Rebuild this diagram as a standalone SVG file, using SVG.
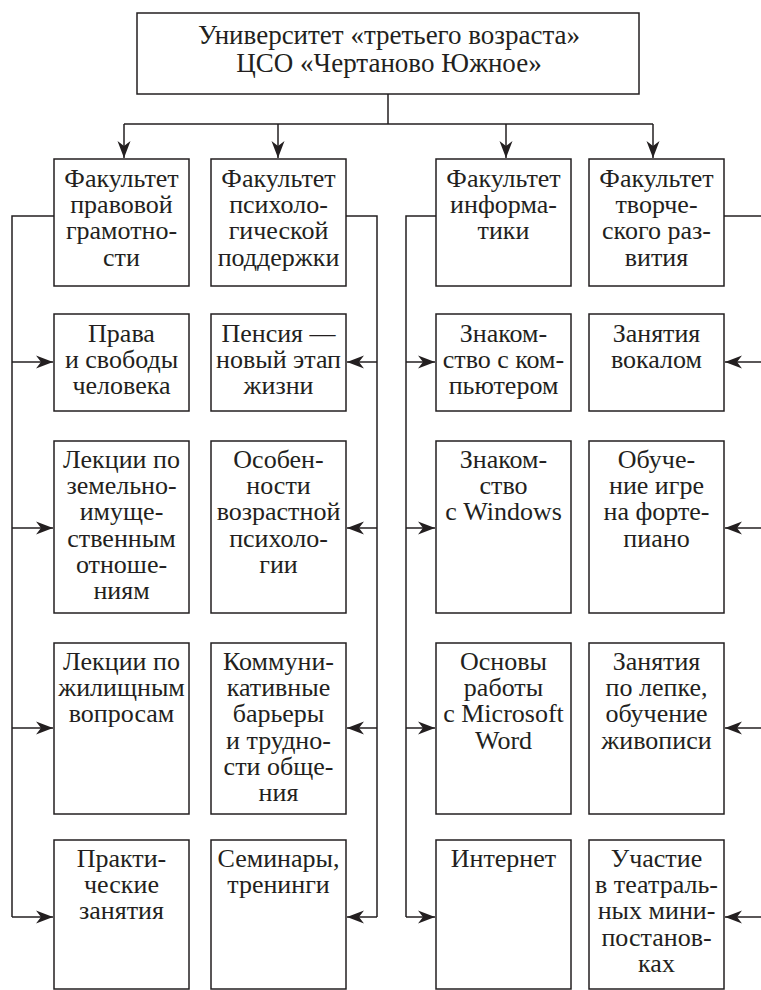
<svg xmlns="http://www.w3.org/2000/svg" width="761" height="990" viewBox="0 0 761 990">
<style>
rect{fill:#fff;stroke:#231f20;stroke-width:1.5}
text{font-family:'Liberation Serif','DejaVu Serif','Times New Roman',serif;font-size:26px;fill:#231f20;text-anchor:middle}
.t{font-size:27px}
.c path{fill:none;stroke:#231f20;stroke-width:1.5}
</style>
<defs>
<marker id="a" markerUnits="userSpaceOnUse" markerWidth="20" markerHeight="16" viewBox="-17 -8 18 16" refX="0" refY="0" orient="auto">
<path d="M0,0 L-17,-6.5 L-12,0 L-17,6.5 Z" fill="#231f20"/>
</marker>
</defs>
<g class="c" id="connectors">
<path d="M388,94 V124 M124,124 H653"/>
<path d="M124,124 V158" marker-end="url(#a)"/>
<path d="M278,124 V158" marker-end="url(#a)"/>
<path d="M506,124 V158" marker-end="url(#a)"/>
<path d="M653,124 V158" marker-end="url(#a)"/>
<path d="M54,216 H12 V917"/>
<path d="M12,362 H53" marker-end="url(#a)"/>
<path d="M12,528 H53" marker-end="url(#a)"/>
<path d="M12,728 H53" marker-end="url(#a)"/>
<path d="M12,917 H53" marker-end="url(#a)"/>
<path d="M346,216 H377 V917"/>
<path d="M377,362 H347" marker-end="url(#a)"/>
<path d="M377,528 H347" marker-end="url(#a)"/>
<path d="M377,728 H347" marker-end="url(#a)"/>
<path d="M377,917 H347" marker-end="url(#a)"/>
<path d="M436,216 H406 V917"/>
<path d="M406,362 H435" marker-end="url(#a)"/>
<path d="M406,528 H435" marker-end="url(#a)"/>
<path d="M406,728 H435" marker-end="url(#a)"/>
<path d="M406,917 H435" marker-end="url(#a)"/>
<path d="M724,216 H761"/>
<path d="M761,362 H725" marker-end="url(#a)"/>
<path d="M761,528 H725" marker-end="url(#a)"/>
<path d="M761,728 H725" marker-end="url(#a)"/>
<path d="M761,917 H725" marker-end="url(#a)"/>
</g>
<g id="root"><rect x="137" y="13" width="502" height="81"/>
<text class="t" x="389" y="44">Университет «третьего возраста»</text>
<text class="t" x="389" y="72">ЦСО «Чертаново Южное»</text></g>

<g id="f1"><rect x="54" y="159" width="135" height="127"/>
<text x="121.5" y="187">Факультет</text><text x="121.5" y="213.2">правовой</text><text x="121.5" y="239.4">грамотно-</text><text x="121.5" y="265.6">сти</text></g>
<g id="f2"><rect x="211" y="159" width="135" height="127"/>
<text x="278.5" y="187">Факультет</text><text x="278.5" y="213.2">психоло-</text><text x="278.5" y="239.4">гической</text><text x="278.5" y="265.6">поддержки</text></g>
<g id="f3"><rect x="436" y="159" width="135" height="127"/>
<text x="503.5" y="187">Факультет</text><text x="503.5" y="213.2">информа-</text><text x="503.5" y="239.4">тики</text></g>
<g id="f4"><rect x="589" y="159" width="135" height="127"/>
<text x="656.5" y="187">Факультет</text><text x="656.5" y="213.2">творче-</text><text x="656.5" y="239.4">ского раз-</text><text x="656.5" y="265.6">вития</text></g>

<g id="c1r2"><rect x="54" y="314" width="135" height="97"/>
<text x="121.5" y="342">Права</text><text x="121.5" y="368.2">и свободы</text><text x="121.5" y="394.4">человека</text></g>
<g id="c2r2"><rect x="211" y="314" width="135" height="97"/>
<text x="278.5" y="342">Пенсия —</text><text x="278.5" y="368.2">новый этап</text><text x="278.5" y="394.4">жизни</text></g>
<g id="c3r2"><rect x="436" y="314" width="135" height="97"/>
<text x="503.5" y="342">Знаком-</text><text x="503.5" y="368.2">ство с ком-</text><text x="503.5" y="394.4">пьютером</text></g>
<g id="c4r2"><rect x="589" y="314" width="135" height="97"/>
<text x="656.5" y="342">Занятия</text><text x="656.5" y="368.2">вокалом</text></g>

<g id="c1r3"><rect x="54" y="441" width="135" height="172"/>
<text x="121.5" y="468">Лекции по</text><text x="121.5" y="494.2">земельно-</text><text x="121.5" y="520.4">имуще-</text><text x="121.5" y="546.6">ственным</text><text x="121.5" y="572.8">отноше-</text><text x="121.5" y="599">ниям</text></g>
<g id="c2r3"><rect x="211" y="441" width="135" height="172"/>
<text x="278.5" y="468">Особен-</text><text x="278.5" y="494.2">ности</text><text x="278.5" y="520.4">возрастной</text><text x="278.5" y="546.6">психоло-</text><text x="278.5" y="572.8">гии</text></g>
<g id="c3r3"><rect x="436" y="441" width="135" height="172"/>
<text x="503.5" y="468">Знаком-</text><text x="503.5" y="494.2">ство</text><text x="503.5" y="520.4">с Windows</text></g>
<g id="c4r3"><rect x="589" y="441" width="135" height="172"/>
<text x="656.5" y="468">Обуче-</text><text x="656.5" y="494.2">ние игре</text><text x="656.5" y="520.4">на форте-</text><text x="656.5" y="546.6">пиано</text></g>

<g id="c1r4"><rect x="54" y="643" width="135" height="171"/>
<text x="121.5" y="670">Лекции по</text><text x="121.5" y="696.2">жилищным</text><text x="121.5" y="722.4">вопросам</text></g>
<g id="c2r4"><rect x="211" y="643" width="135" height="171"/>
<text x="278.5" y="670">Коммуни-</text><text x="278.5" y="696.2">кативные</text><text x="278.5" y="722.4">барьеры</text><text x="278.5" y="748.6">и трудно-</text><text x="278.5" y="774.8">сти обще-</text><text x="278.5" y="801">ния</text></g>
<g id="c3r4"><rect x="436" y="643" width="135" height="171"/>
<text x="503.5" y="670">Основы</text><text x="503.5" y="696.2">работы</text><text x="503.5" y="722.4">с Microsoft</text><text x="503.5" y="748.6">Word</text></g>
<g id="c4r4"><rect x="589" y="643" width="135" height="171"/>
<text x="656.5" y="670">Занятия</text><text x="656.5" y="696.2">по лепке,</text><text x="656.5" y="722.4">обучение</text><text x="656.5" y="748.6">живописи</text></g>

<g id="c1r5"><rect x="54" y="840" width="135" height="149"/>
<text x="121.5" y="867">Практи-</text><text x="121.5" y="893.2">ческие</text><text x="121.5" y="919.4">занятия</text></g>
<g id="c2r5"><rect x="211" y="840" width="135" height="149"/>
<text x="278.5" y="867">Семинары,</text><text x="278.5" y="893.2">тренинги</text></g>
<g id="c3r5"><rect x="436" y="840" width="135" height="149"/>
<text x="503.5" y="867">Интернет</text></g>
<g id="c4r5"><rect x="589" y="840" width="135" height="149"/>
<text x="656.5" y="867">Участие</text><text x="656.5" y="893.2">в театраль-</text><text x="656.5" y="919.4">ных мини-</text><text x="656.5" y="945.6">постанов-</text><text x="656.5" y="971.8">ках</text></g>
</svg>
